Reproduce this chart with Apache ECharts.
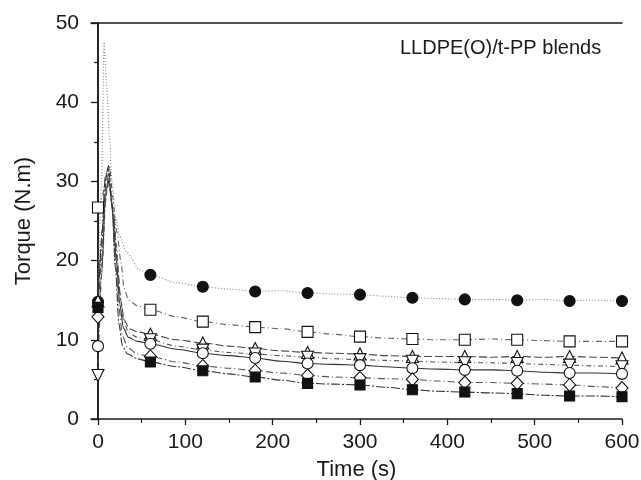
<!DOCTYPE html>
<html>
<head>
<meta charset="utf-8">
<script src="https://cdn.jsdelivr.net/npm/echarts@6.0.0/dist/echarts.min.js"></script>
<style>
  html, body { margin: 0; padding: 0; background: #fff; }
  #chart { width: 641px; height: 480px; }
</style>
</head>
<body>
<div id="chart"></div>
<script>
// torque curves, [time (s), torque (N.m)]
const filledCircle = [[0,14.8],[4,30],[7,47.6],[10,42],[13,36],[16,30],[20,25.5],[25,23],[33,21],[48,18.8],[60,18.2],[90,17.2],[120,16.7],[150,16.4],[180,16.1],[210,16.2],[240,15.9],[270,15.8],[300,15.7],[330,15.5],[360,15.3],[390,15.2],[420,15.1],[450,15.1],[480,15.0],[510,15.1],[540,14.9],[570,15.0],[600,14.9]];
const openSquare   = [[0,26.7],[5,28],[9,31],[13,29],[18,26],[22,23.5],[26,20],[30,16.5],[35,15],[45,14.3],[60,13.8],[90,12.9],[120,12.3],[150,11.9],[180,11.6],[210,11.4],[240,11.0],[270,10.7],[300,10.4],[330,10.2],[360,10.1],[390,10.0],[420,10.0],[450,10.1],[480,10.0],[510,9.9],[540,9.8],[570,9.8],[600,9.8]];
const triUp        = [[0,14.9],[5,24],[10,31],[14,29],[18,25],[22,20],[26,15],[30,12.5],[36,11.4],[45,11.0],[60,10.7],[90,10.0],[120,9.6],[150,9.2],[180,8.9],[210,8.6],[240,8.4],[270,8.3],[300,8.2],[330,8.0],[360,7.9],[390,7.9],[420,7.9],[450,7.8],[480,7.9],[510,7.8],[540,7.9],[570,7.8],[600,7.7]];
const triDown      = [[0,5.5],[5,20],[9,28],[13,32],[17,28],[21,22],[25,16],[29,12.5],[35,10.9],[45,10.3],[60,10.0],[90,9.2],[120,8.7],[150,8.4],[180,8.2],[210,8.0],[240,7.8],[270,7.6],[300,7.5],[330,7.4],[360,7.3],[390,7.2],[420,7.1],[450,7.1],[480,7.0],[510,6.9],[540,6.8],[570,6.7],[600,6.6]];
const openCircle   = [[0,9.2],[4,18],[9,29],[13,30],[17,26],[21,20],[25,14.5],[29,11.5],[35,10.3],[45,9.8],[60,9.5],[90,8.8],[120,8.3],[150,8.0],[180,7.7],[210,7.3],[240,7.0],[270,6.9],[300,6.8],[330,6.6],[360,6.4],[390,6.3],[420,6.2],[450,6.2],[480,6.1],[510,5.9],[540,5.8],[570,5.8],[600,5.7]];
const openDiamond  = [[0,12.9],[4,20],[8,27],[12,31],[16,27],[20,20],[24,14],[28,10.5],[34,9],[45,8.2],[60,7.9],[90,7.2],[120,6.7],[150,6.4],[180,6.1],[210,5.8],[240,5.5],[270,5.3],[300,5.2],[330,5.1],[360,5.0],[390,4.8],[420,4.6],[450,4.6],[480,4.5],[510,4.4],[540,4.3],[570,4.1],[600,3.9]];
const filledSquare = [[0,14.1],[4,22],[8,30],[12,32],[16,27],[20,19],[24,12],[28,9.2],[34,8.2],[45,7.6],[60,7.2],[90,6.6],[120,6.1],[150,5.7],[180,5.3],[210,4.9],[240,4.5],[270,4.4],[300,4.3],[330,4.0],[360,3.7],[390,3.5],[420,3.4],[450,3.3],[480,3.2],[510,3.0],[540,2.9],[570,2.9],[600,2.8]];

const markerTimes = [0,60,120,180,240,300,360,420,480,540,600];
const xMajor = [0,100,200,300,400,500,600];
const xMinor = [50,150,250,350,450,550];

const sets = [
  {d: filledCircle, sym: 'circle', fill: '#111', size: 11, color: '#888', dash: [1,2]},
  {d: openSquare, sym: 'rect', fill: '#fff', size: 11, color: '#666', dash: [6,3,1,3]},
  {d: triUp, sym: 'triangle', fill: '#fff', size: 12, color: '#444', dash: [8,3]},
  {d: triDown, sym: 'triangle', rot: 180, fill: '#fff', size: 12, color: '#555', dash: [5,3,1,3]},
  {d: openCircle, sym: 'circle', fill: '#fff', size: 11, color: '#333', dash: 'solid'},
  {d: openDiamond, sym: 'diamond', fill: '#fff', size: [12,13], color: '#555', dash: [7,3,1,3]},
  {d: filledSquare, sym: 'rect', fill: '#111', size: 10, color: '#333', dash: [9,2,2,2]}
];

const series = [];
sets.forEach(s => {
  series.push({
    type: 'line', data: s.d, showSymbol: false, smooth: 0.25, smoothMonotone: 'x',
    lineStyle: {color: s.color, width: 1.1, type: s.dash}, z: 2, silent: true
  });
  series.push({
    type: 'scatter', data: s.d.filter(p => markerTimes.includes(p[0])),
    symbol: s.sym, symbolSize: s.size, symbolRotate: s.rot || 0,
    itemStyle: {color: s.fill, borderColor: '#111', borderWidth: 1.1, opacity: 1}, z: 5, silent: true
  });
});

const chart = echarts.init(document.getElementById('chart'));
const font = {fontFamily: 'Liberation Sans, Arial, sans-serif', color: '#1a1a1a'};
chart.setOption({
  animation: false,
  grid: {left: 91, right: 19, top: 23, bottom: 61, containLabel: false, outerBoundsMode: 'none'},
  xAxis: [
    {
      type: 'value', min: -8, max: 600, position: 'bottom',
      name: 'Time (s)', nameLocation: 'middle', nameGap: 40,
      nameTextStyle: Object.assign({fontSize: 22}, font),
      axisLine: {lineStyle: {color: '#1a1a1a', width: 1.5}},
      axisTick: {customValues: xMajor, length: 6, lineStyle: {color: '#1a1a1a', width: 1.3}},
      axisLabel: Object.assign({customValues: xMajor, fontSize: 21, margin: 13}, font),
      splitLine: {show: false}
    },
    {
      type: 'value', min: -8, max: 600, position: 'bottom', gridIndex: 0,
      axisLine: {show: false},
      axisTick: {customValues: xMinor, length: 4, lineStyle: {color: '#1a1a1a', width: 1.2}},
      axisLabel: {show: false}, splitLine: {show: false}
    },
    {
      type: 'value', min: -8, max: 600, position: 'top',
      axisLine: {lineStyle: {color: '#1a1a1a', width: 1.5}},
      axisTick: {show: false}, axisLabel: {show: false}, splitLine: {show: false}
    }
  ],
  yAxis: [
    {
      type: 'value', min: 0, max: 50, interval: 10, position: 'left',
      name: 'Torque (N.m)', nameLocation: 'middle', nameGap: 56,
      nameTextStyle: Object.assign({fontSize: 22}, font),
      axisLine: {show: true, lineStyle: {color: '#1a1a1a', width: 1.5}},
      axisTick: {show: true, length: 7, lineStyle: {color: '#1a1a1a', width: 1.3}},
      minorTick: {show: true, splitNumber: 2, length: 4, lineStyle: {color: '#1a1a1a', width: 1.2}},
      axisLabel: Object.assign({fontSize: 21, margin: 12}, font),
      splitLine: {show: false}
    },
    {
      type: 'value', min: 0, max: 50, position: 'right',
      axisLine: {show: true, lineStyle: {color: '#1a1a1a', width: 1.5}},
      axisTick: {show: false}, axisLabel: {show: false}, splitLine: {show: false}
    }
  ],
  graphic: [{
    type: 'text', left: 400, top: 38,
    style: {text: 'LLDPE(O)/t-PP blends', fontSize: 20, fontFamily: 'Liberation Sans, Arial, sans-serif', fill: '#1a1a1a'}
  }],
  series: series
});
</script>
</body>
</html>
